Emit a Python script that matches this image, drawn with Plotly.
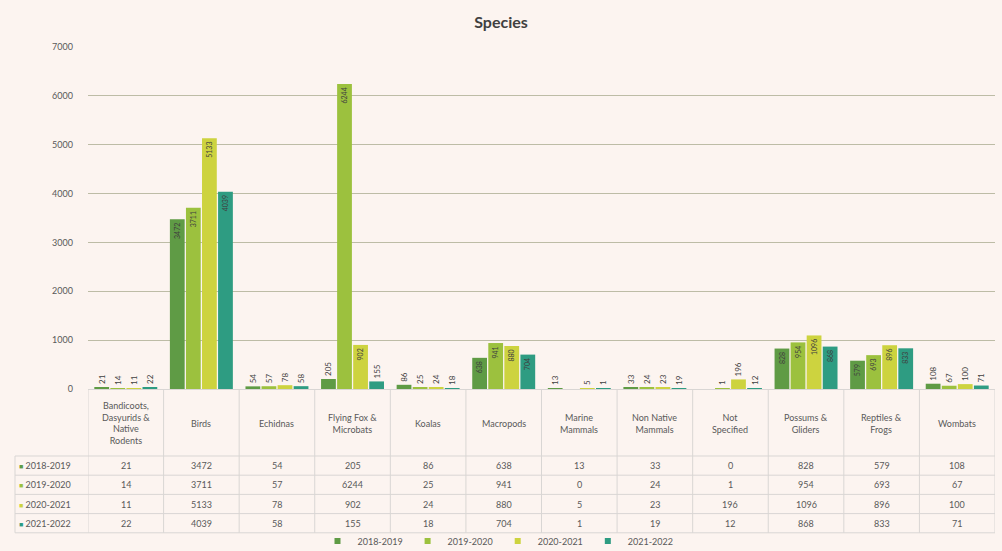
import plotly.graph_objects as go

# ---- data ---------------------------------------------------------------
categories = [
    "Bandicoots,<br>Dasyurids &<br>Native<br>Rodents",
    "Birds",
    "Echidnas",
    "Flying Fox &<br>Microbats",
    "Koalas",
    "Macropods",
    "Marine<br>Mammals",
    "Non Native<br>Mammals",
    "Not<br>Specified",
    "Possums &<br>Gliders",
    "Reptiles &<br>Frogs",
    "Wombats",
]
seasons = ["2018-2019", "2019-2020", "2020-2021", "2021-2022"]
v_2018_2019 = [21, 3472, 54, 205, 86, 638, 13, 33, 0, 828, 579, 108]
v_2019_2020 = [14, 3711, 57, 6244, 25, 941, 0, 24, 1, 954, 693, 67]
v_2020_2021 = [11, 5133, 78, 902, 24, 880, 5, 23, 196, 1096, 896, 100]
v_2021_2022 = [22, 4039, 58, 155, 18, 704, 1, 19, 12, 868, 833, 71]
series = [v_2018_2019, v_2019_2020, v_2020_2021, v_2021_2022]
colors = ["#5F9B45", "#9CC13E", "#CDD33F", "#2E9C82"]
y_ticks = [0, 1000, 2000, 3000, 4000, 5000, 6000, 7000]

# ---- page geometry (pixels) -----------------------------------------------
W, H = 1002, 551
PLOT_L, PLOT_R = 88, 995
PLOT_T, PLOT_B = 47, 389
PLOT_H = PLOT_B - PLOT_T
PLOT_W = PLOT_R - PLOT_L
TABLE_L = 15
ROW_TOP = 456
ROW_H = 19.2

BG = "#FCF4F0"
TXT = "#595959"
GRID = "#BDBCA6"
CELL = "#D9D6D4"
FONT = "Lato, 'Open Sans', sans-serif"


def py(p):
    """pixel row -> paper y"""
    return (PLOT_B - p) / PLOT_H


def px(p):
    """pixel column -> paper x"""
    return (p - PLOT_L) / PLOT_W


keys = list(range(len(categories)))

fig = go.Figure()
for name, vals, col in zip(seasons, series, colors):
    fig.add_trace(go.Bar(
        name=name,
        x=keys,
        y=vals,
        marker=dict(color=col, line=dict(width=0)),
        text=[str(v) for v in vals],
        textposition="auto",
        textangle=-90,
        insidetextanchor="end",
        insidetextfont=dict(size=8, color="#3F3F3F", family=FONT),
        outsidetextfont=dict(size=8, color="#3F3F3F", family=FONT),
        cliponaxis=False,
        hoverinfo="skip",
        showlegend=False,
    ))

# compact square legend keys for the seasons
for name, col in zip(seasons, colors):
    fig.add_trace(go.Scatter(
        name=name, x=[None], y=[None], mode="markers",
        marker=dict(symbol="square", size=6, color=col),
        hoverinfo="skip",
    ))

annotations = []
shapes = []

# category header cells
for i, cat in enumerate(categories):
    annotations.append(dict(
        x=i, xref="x", y=py(423), yref="paper", text=cat, showarrow=False,
        font=dict(size=9, color=TXT, family=FONT), align="center",
        xanchor="center", yanchor="middle",
    ))

# table values
for r, (name, vals, col) in enumerate(zip(seasons, series, colors)):
    yc = py(ROW_TOP + ROW_H * (r + 0.5))
    for i, v in enumerate(vals):
        annotations.append(dict(
            x=i, xref="x", y=yc, yref="paper", text=str(v), showarrow=False,
            font=dict(size=9, color=TXT, family=FONT),
            xanchor="center", yanchor="middle",
        ))
    annotations.append(dict(
        x=px(17), xref="paper", y=yc, yref="paper",
        text=f"<span style='color:{col};font-size:7px'>■</span> {name}",
        showarrow=False,
        font=dict(size=9, color=TXT, family=FONT),
        xanchor="left", yanchor="middle",
    ))

# table grid: horizontal rules
for r in range(5):
    yy = py(ROW_TOP + ROW_H * r)
    shapes.append(dict(type="line", xref="paper", yref="paper",
                       x0=px(TABLE_L), x1=1, y0=yy, y1=yy,
                       line=dict(color=CELL, width=1)))
# vertical rules between categories
for i in range(len(categories) + 1):
    shapes.append(dict(type="line", xref="x", yref="paper",
                       x0=i - 0.5, x1=i - 0.5, y0=0, y1=py(ROW_TOP + ROW_H * 4),
                       line=dict(color=CELL, width=1)))
shapes.append(dict(type="line", xref="paper", yref="paper",
                   x0=px(TABLE_L), x1=px(TABLE_L), y0=py(ROW_TOP),
                   y1=py(ROW_TOP + ROW_H * 4), line=dict(color=CELL, width=1)))

fig.update_layout(
    width=W, height=H,
    margin=dict(l=PLOT_L, r=W - PLOT_R, t=PLOT_T, b=H - PLOT_B, autoexpand=False),
    paper_bgcolor=BG, plot_bgcolor=BG,
    font=dict(family=FONT, color=TXT),
    title=dict(text="<b>Species</b>", x=0.5, xanchor="center",
               y=1 - 22 / H, yanchor="middle",
               font=dict(size=16, color="#404040", family=FONT)),
    barmode="group", bargap=0.15, bargroupgap=0.08,
    xaxis=dict(range=[-0.5, len(categories) - 0.5], showticklabels=False,
               showgrid=False, zeroline=False, showline=True,
               linecolor=CELL, linewidth=1, fixedrange=True),
    yaxis=dict(range=[0, 7000], tickvals=y_ticks, showgrid=True,
               gridcolor=GRID, gridwidth=1, zeroline=False, showline=False,
               tickfont=dict(size=9, color=TXT, family=FONT),
               ticklabelstandoff=14, fixedrange=True),
    legend=dict(orientation="h", xref="container", yref="container",
                x=0.497, xanchor="center", y=1 - 541 / H, yanchor="middle",
                font=dict(size=9, color=TXT, family=FONT),
                itemwidth=30, tracegroupgap=0,
                bgcolor="rgba(0,0,0,0)", itemclick=False),
    annotations=annotations,
    shapes=shapes,
    showlegend=True,
)

fig.write_html("out.html")
